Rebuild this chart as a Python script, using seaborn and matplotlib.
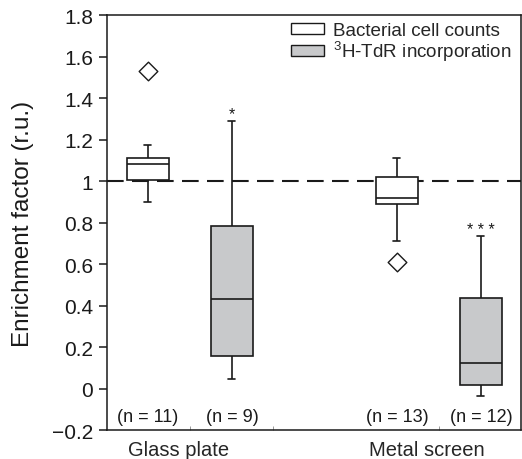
import numpy as np
import pandas as pd
import seaborn as sns
import matplotlib.pyplot as plt
from matplotlib.ticker import FixedLocator

# summary values: whisker low, Q1, median, Q3, whisker high
surfaces = ['Glass plate', 'Metal screen']
methods = ['Bacterial cell counts', '$^{3}$H-TdR incorporation']

cells_glass = [0.90, 1.005, 1.08, 1.11, 1.175]
tdr_glass = [0.046, 0.155, 0.43, 0.785, 1.29]
cells_metal = [0.71, 0.89, 0.917, 1.02, 1.11]
tdr_metal = [-0.035, 0.017, 0.125, 0.437, 0.733]

outlier_surface = ['Glass plate', 'Metal screen']
outlier_value = [1.53, 0.61]

n_counts = [11, 9, 13, 12]
signif = ['', '*', '', '* * *']

ytick_vals = [-0.2, 0, 0.2, 0.4, 0.6, 0.8, 1.0, 1.2, 1.4, 1.6, 1.8]
ytick_labels = ['\u22120.2', '0', '0.2', '0.4', '0.6', '0.8', '1', '1.2', '1.4', '1.6', '1.8']

rows = []
for surf, meth, vals in [(surfaces[0], methods[0], cells_glass),
                         (surfaces[0], methods[1], tdr_glass),
                         (surfaces[1], methods[0], cells_metal),
                         (surfaces[1], methods[1], tdr_metal)]:
    for v in vals:
        rows.append({'Surface': surf, 'Method': meth, 'Value': v})
df = pd.DataFrame(rows)

sns.set_style('ticks')
plt.rcParams['font.family'] = ['Liberation Sans', 'DejaVu Sans']
plt.rcParams['mathtext.fontset'] = 'custom'
plt.rcParams['mathtext.rm'] = 'Liberation Sans'
plt.rcParams['mathtext.it'] = 'Liberation Sans:italic'

fig = plt.figure(figsize=(5.22, 4.6), dpi=100)
ax = fig.add_axes([0.205, 0.063, 0.793, 0.902])

ink = '#1a1a1a'
ax.axhline(1.0, color=ink, lw=1.5, dashes=(8, 4), zorder=1)

sns.boxplot(data=df, x='Surface', y='Value', hue='Method', order=surfaces,
            hue_order=methods, palette={methods[0]: 'white', methods[1]: '#c8c9cb'},
            width=0.675, gap=0.5, whis=np.inf, linecolor=ink, linewidth=1.2,
            capwidths=0.028, ax=ax, zorder=2)

# outliers as open diamonds
out_x = [surfaces.index(s) - 0.16875 for s in outlier_surface]
ax.scatter(out_x, outlier_value, marker='D', s=90, facecolor='white',
           edgecolor=ink, linewidth=1.0, zorder=3)

box_x = [-0.16875, 0.16875, 1 - 0.16875, 1 + 0.16875]
tops = [cells_glass[-1], tdr_glass[-1], cells_metal[-1], tdr_metal[-1]]
for x, n, s, t in zip(box_x, n_counts, signif, tops):
    ax.text(x, -0.135, f'(n = {n})', ha='center', va='center', fontsize=13, color=ink)
    if s:
        ax.annotate(s, (x, t), xytext=(0, 2), textcoords='offset points',
                    ha='center', va='baseline', fontsize=11.5, color=ink)

ax.set_xlim(-1/3, 1.33)
ax.set_ylim(-0.2, 1.8)
ax.set_yticks(ytick_vals, ytick_labels)
ax.set_xticks([-0.044, 0.95], surfaces)
ax.xaxis.set_minor_locator(FixedLocator([0, 1/3, 1]))
ax.tick_params(axis='x', which='major', length=0, pad=7, labelsize=14.5)
ax.tick_params(axis='x', which='minor', direction='in', length=3, width=0.6, color='#888888')
ax.tick_params(axis='y', length=6, width=1.1, pad=4, labelsize=15, color=ink, labelcolor=ink)
ax.set_xlabel('')
ax.set_ylabel('Enrichment factor (r.u.)', fontsize=17.5, labelpad=13, color=ink)
for sp in ax.spines.values():
    sp.set_linewidth(1.1)
    sp.set_color(ink)

leg = ax.legend(loc='upper right', bbox_to_anchor=(0.99, 0.995), frameon=False,
                fontsize=13.6, handlelength=1.75, handleheight=0.55, labelspacing=0.0,
                handletextpad=0.5, borderaxespad=0.1, borderpad=0.15)
for h in leg.legend_handles:
    h.set_edgecolor(ink)
    h.set_linewidth(1.0)

fig.savefig('out.png', dpi=100)
